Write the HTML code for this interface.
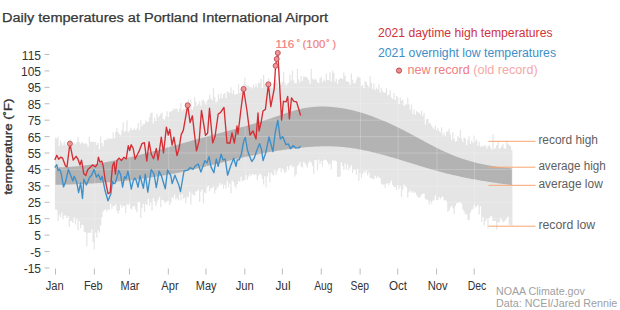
<!DOCTYPE html>
<html><head><meta charset="utf-8"><style>
html,body{margin:0;padding:0;background:#fff;overflow:hidden}
svg{display:block;font-family:"Liberation Sans", sans-serif}
</style></head><body>
<svg width="620" height="310" viewBox="0 0 620 310">
<rect width="620" height="310" fill="#fff"/>
<path d="M54.87,137.7 L56.13,137.7 L56.13,138.5 L57.38,138.5 L57.38,136.4 L58.63,136.4 L58.63,146.1 L59.89,146.1 L59.89,140.4 L61.14,140.4 L61.14,143.0 L62.39,143.0 L62.39,145.4 L63.65,145.4 L63.65,141.7 L64.90,141.7 L64.90,144.5 L66.16,144.5 L66.16,145.2 L67.41,145.2 L67.41,146.5 L68.66,146.5 L68.66,140.3 L69.92,140.3 L69.92,139.5 L71.17,139.5 L71.17,146.1 L72.42,146.1 L72.42,143.7 L73.68,143.7 L73.68,142.8 L74.93,142.8 L74.93,144.2 L76.18,144.2 L76.18,142.1 L77.44,142.1 L77.44,137.1 L78.69,137.1 L78.69,142.3 L79.95,142.3 L79.95,143.7 L81.20,143.7 L81.20,141.7 L82.45,141.7 L82.45,143.2 L83.71,143.2 L83.71,143.7 L84.96,143.7 L84.96,143.0 L86.21,143.0 L86.21,144.3 L87.47,144.3 L87.47,146.7 L88.72,146.7 L88.72,137.0 L89.97,137.0 L89.97,142.1 L91.23,142.1 L91.23,141.8 L92.48,141.8 L92.48,141.6 L93.73,141.6 L93.73,142.3 L94.99,142.3 L94.99,141.7 L96.24,141.7 L96.24,145.0 L97.50,145.0 L97.50,142.7 L98.75,142.7 L98.75,149.2 L100.00,149.2 L100.00,136.2 L101.26,136.2 L101.26,142.9 L102.51,142.9 L102.51,146.3 L103.76,146.3 L103.76,140.3 L105.02,140.3 L105.02,139.6 L106.27,139.6 L106.27,139.9 L107.52,139.9 L107.52,138.1 L108.78,138.1 L108.78,139.0 L110.03,139.0 L110.03,138.2 L111.29,138.2 L111.29,139.3 L112.54,139.3 L112.54,132.6 L113.79,132.6 L113.79,138.3 L115.05,138.3 L115.05,132.1 L116.30,132.1 L116.30,128.0 L117.55,128.0 L117.55,131.9 L118.81,131.9 L118.81,133.9 L120.06,133.9 L120.06,135.3 L121.31,135.3 L121.31,130.3 L122.57,130.3 L122.57,122.5 L123.82,122.5 L123.82,131.9 L125.07,131.9 L125.07,130.9 L126.33,130.9 L126.33,120.2 L127.58,120.2 L127.58,132.0 L128.84,132.0 L128.84,130.3 L130.09,130.3 L130.09,127.5 L131.34,127.5 L131.34,129.8 L132.60,129.8 L132.60,129.9 L133.85,129.9 L133.85,128.3 L135.10,128.3 L135.10,130.0 L136.36,130.0 L136.36,128.6 L137.61,128.6 L137.61,123.0 L138.86,123.0 L138.86,129.9 L140.12,129.9 L140.12,120.3 L141.37,120.3 L141.37,126.2 L142.63,126.2 L142.63,124.0 L143.88,124.0 L143.88,123.9 L145.13,123.9 L145.13,120.5 L146.39,120.5 L146.39,122.0 L147.64,122.0 L147.64,121.8 L148.89,121.8 L148.89,117.1 L150.15,117.1 L150.15,113.3 L151.40,113.3 L151.40,112.6 L152.65,112.6 L152.65,123.4 L153.91,123.4 L153.91,118.0 L155.16,118.0 L155.16,121.1 L156.41,121.1 L156.41,113.8 L157.67,113.8 L157.67,117.5 L158.92,117.5 L158.92,115.8 L160.18,115.8 L160.18,113.7 L161.43,113.7 L161.43,112.5 L162.68,112.5 L162.68,119.0 L163.94,119.0 L163.94,119.7 L165.19,119.7 L165.19,116.4 L166.44,116.4 L166.44,111.3 L167.70,111.3 L167.70,117.0 L168.95,117.0 L168.95,111.8 L170.20,111.8 L170.20,111.5 L171.46,111.5 L171.46,110.9 L172.71,110.9 L172.71,108.5 L173.97,108.5 L173.97,109.6 L175.22,109.6 L175.22,108.3 L176.47,108.3 L176.47,109.0 L177.73,109.0 L177.73,111.9 L178.98,111.9 L178.98,108.8 L180.23,108.8 L180.23,102.9 L181.49,102.9 L181.49,111.2 L182.74,111.2 L182.74,109.0 L183.99,109.0 L183.99,109.2 L185.25,109.2 L185.25,102.1 L186.50,102.1 L186.50,108.1 L187.75,108.1 L187.75,99.4 L189.01,99.4 L189.01,107.1 L190.26,107.1 L190.26,99.8 L191.52,99.8 L191.52,109.8 L192.77,109.8 L192.77,107.1 L194.02,107.1 L194.02,97.3 L195.28,97.3 L195.28,102.0 L196.53,102.0 L196.53,105.9 L197.78,105.9 L197.78,103.7 L199.04,103.7 L199.04,101.2 L200.29,101.2 L200.29,105.7 L201.54,105.7 L201.54,100.4 L202.80,100.4 L202.80,99.5 L204.05,99.5 L204.05,102.0 L205.31,102.0 L205.31,104.8 L206.56,104.8 L206.56,100.8 L207.81,100.8 L207.81,99.3 L209.07,99.3 L209.07,94.6 L210.32,94.6 L210.32,98.4 L211.57,98.4 L211.57,100.4 L212.83,100.4 L212.83,87.7 L214.08,87.7 L214.08,96.9 L215.33,96.9 L215.33,102.2 L216.59,102.2 L216.59,101.4 L217.84,101.4 L217.84,94.1 L219.09,94.1 L219.09,98.4 L220.35,98.4 L220.35,93.8 L221.60,93.8 L221.60,98.3 L222.86,98.3 L222.86,94.3 L224.11,94.3 L224.11,93.1 L225.36,93.1 L225.36,98.3 L226.62,98.3 L226.62,91.3 L227.87,91.3 L227.87,92.1 L229.12,92.1 L229.12,92.9 L230.38,92.9 L230.38,87.2 L231.63,87.2 L231.63,93.7 L232.88,93.7 L232.88,90.1 L234.14,90.1 L234.14,94.4 L235.39,94.4 L235.39,94.3 L236.65,94.3 L236.65,94.0 L237.90,94.0 L237.90,84.2 L239.15,84.2 L239.15,93.1 L240.41,93.1 L240.41,88.7 L241.66,88.7 L241.66,86.2 L242.91,86.2 L242.91,84.7 L244.17,84.7 L244.17,77.7 L245.42,77.7 L245.42,84.2 L246.67,84.2 L246.67,85.6 L247.93,85.6 L247.93,85.4 L249.18,85.4 L249.18,87.1 L250.43,87.1 L250.43,86.7 L251.69,86.7 L251.69,88.6 L252.94,88.6 L252.94,84.5 L254.20,84.5 L254.20,87.0 L255.45,87.0 L255.45,83.5 L256.70,83.5 L256.70,87.1 L257.96,87.1 L257.96,82.4 L259.21,82.4 L259.21,83.1 L260.46,83.1 L260.46,78.6 L261.72,78.6 L261.72,87.9 L262.97,87.9 L262.97,74.8 L264.22,74.8 L264.22,83.8 L265.48,83.8 L265.48,82.9 L266.73,82.9 L266.73,82.3 L267.99,82.3 L267.99,78.1 L269.24,78.1 L269.24,82.0 L270.49,82.0 L270.49,86.8 L271.75,86.8 L271.75,87.5 L273.00,87.5 L273.00,82.7 L274.25,82.7 L274.25,81.9 L275.51,81.9 L275.51,79.7 L276.76,79.7 L276.76,82.6 L278.01,82.6 L278.01,86.9 L279.27,86.9 L279.27,83.1 L280.52,83.1 L280.52,84.8 L281.77,84.8 L281.77,81.4 L283.03,81.4 L283.03,71.7 L284.28,71.7 L284.28,82.8 L285.54,82.8 L285.54,86.1 L286.79,86.1 L286.79,83.7 L288.04,83.7 L288.04,82.7 L289.30,82.7 L289.30,74.8 L290.55,74.8 L290.55,80.4 L291.80,80.4 L291.80,70.8 L293.06,70.8 L293.06,80.2 L294.31,80.2 L294.31,83.3 L295.56,83.3 L295.56,83.2 L296.82,83.2 L296.82,68.7 L298.07,68.7 L298.07,79.4 L299.33,79.4 L299.33,82.6 L300.58,82.6 L300.58,76.0 L301.83,76.0 L301.83,81.0 L303.09,81.0 L303.09,76.6 L304.34,76.6 L304.34,76.8 L305.59,76.8 L305.59,77.0 L306.85,77.0 L306.85,78.1 L308.10,78.1 L308.10,80.3 L309.35,80.3 L309.35,83.7 L310.61,83.7 L310.61,68.8 L311.86,68.8 L311.86,78.8 L313.11,78.8 L313.11,80.0 L314.37,80.0 L314.37,78.5 L315.62,78.5 L315.62,79.7 L316.88,79.7 L316.88,81.9 L318.13,81.9 L318.13,83.3 L319.38,83.3 L319.38,78.6 L320.64,78.6 L320.64,76.8 L321.89,76.8 L321.89,82.3 L323.14,82.3 L323.14,79.6 L324.40,79.6 L324.40,81.3 L325.65,81.3 L325.65,73.5 L326.90,73.5 L326.90,79.9 L328.16,79.9 L328.16,80.2 L329.41,80.2 L329.41,72.3 L330.67,72.3 L330.67,81.6 L331.92,81.6 L331.92,70.8 L333.17,70.8 L333.17,72.8 L334.43,72.8 L334.43,81.8 L335.68,81.8 L335.68,78.7 L336.93,78.7 L336.93,83.7 L338.19,83.7 L338.19,79.8 L339.44,79.8 L339.44,78.3 L340.69,78.3 L340.69,78.3 L341.95,78.3 L341.95,79.0 L343.20,79.0 L343.20,72.6 L344.45,72.6 L344.45,75.9 L345.71,75.9 L345.71,81.6 L346.96,81.6 L346.96,81.3 L348.22,81.3 L348.22,81.9 L349.47,81.9 L349.47,85.1 L350.72,85.1 L350.72,73.5 L351.98,73.5 L351.98,79.7 L353.23,79.7 L353.23,83.3 L354.48,83.3 L354.48,83.2 L355.74,83.2 L355.74,79.6 L356.99,79.6 L356.99,76.6 L358.24,76.6 L358.24,77.2 L359.50,77.2 L359.50,77.9 L360.75,77.9 L360.75,86.1 L362.01,86.1 L362.01,84.7 L363.26,84.7 L363.26,88.0 L364.51,88.0 L364.51,81.2 L365.77,81.2 L365.77,81.7 L367.02,81.7 L367.02,84.9 L368.27,84.9 L368.27,87.0 L369.53,87.0 L369.53,76.3 L370.78,76.3 L370.78,82.7 L372.03,82.7 L372.03,88.9 L373.29,88.9 L373.29,83.6 L374.54,83.6 L374.54,90.3 L375.79,90.3 L375.79,87.4 L377.05,87.4 L377.05,89.3 L378.30,89.3 L378.30,84.6 L379.56,84.6 L379.56,92.4 L380.81,92.4 L380.81,87.8 L382.06,87.8 L382.06,91.2 L383.32,91.2 L383.32,92.8 L384.57,92.8 L384.57,92.4 L385.82,92.4 L385.82,87.8 L387.08,87.8 L387.08,95.4 L388.33,95.4 L388.33,94.4 L389.58,94.4 L389.58,90.3 L390.84,90.3 L390.84,97.4 L392.09,97.4 L392.09,99.1 L393.35,99.1 L393.35,93.0 L394.60,93.0 L394.60,100.3 L395.85,100.3 L395.85,95.7 L397.11,95.7 L397.11,97.6 L398.36,97.6 L398.36,104.0 L399.61,104.0 L399.61,97.4 L400.87,97.4 L400.87,100.8 L402.12,100.8 L402.12,99.6 L403.37,99.6 L403.37,105.9 L404.63,105.9 L404.63,104.6 L405.88,104.6 L405.88,104.4 L407.13,104.4 L407.13,97.7 L408.39,97.7 L408.39,104.3 L409.64,104.3 L409.64,109.7 L410.90,109.7 L410.90,104.5 L412.15,104.5 L412.15,113.9 L413.40,113.9 L413.40,109.6 L414.66,109.6 L414.66,114.8 L415.91,114.8 L415.91,111.0 L417.16,111.0 L417.16,112.1 L418.42,112.1 L418.42,112.8 L419.67,112.8 L419.67,114.4 L420.92,114.4 L420.92,110.6 L422.18,110.6 L422.18,116.2 L423.43,116.2 L423.43,112.9 L424.69,112.9 L424.69,124.6 L425.94,124.6 L425.94,119.2 L427.19,119.2 L427.19,118.7 L428.45,118.7 L428.45,123.2 L429.70,123.2 L429.70,123.3 L430.95,123.3 L430.95,125.4 L432.21,125.4 L432.21,127.4 L433.46,127.4 L433.46,129.2 L434.71,129.2 L434.71,125.6 L435.97,125.6 L435.97,130.1 L437.22,130.1 L437.22,128.0 L438.47,128.0 L438.47,130.8 L439.73,130.8 L439.73,132.4 L440.98,132.4 L440.98,127.2 L442.24,127.2 L442.24,135.2 L443.49,135.2 L443.49,132.7 L444.74,132.7 L444.74,135.7 L446.00,135.7 L446.00,131.5 L447.25,131.5 L447.25,131.4 L448.50,131.4 L448.50,128.8 L449.76,128.8 L449.76,134.5 L451.01,134.5 L451.01,139.9 L452.26,139.9 L452.26,132.3 L453.52,132.3 L453.52,138.6 L454.77,138.6 L454.77,141.8 L456.03,141.8 L456.03,141.1 L457.28,141.1 L457.28,136.1 L458.53,136.1 L458.53,137.7 L459.79,137.7 L459.79,130.1 L461.04,130.1 L461.04,138.8 L462.29,138.8 L462.29,142.0 L463.55,142.0 L463.55,137.5 L464.80,137.5 L464.80,138.5 L466.05,138.5 L466.05,145.3 L467.31,145.3 L467.31,139.8 L468.56,139.8 L468.56,136.3 L469.81,136.3 L469.81,144.0 L471.07,144.0 L471.07,140.5 L472.32,140.5 L472.32,142.8 L473.58,142.8 L473.58,135.6 L474.83,135.6 L474.83,141.2 L476.08,141.2 L476.08,139.2 L477.34,139.2 L477.34,146.0 L478.59,146.0 L478.59,141.8 L479.84,141.8 L479.84,146.7 L481.10,146.7 L481.10,145.5 L482.35,145.5 L482.35,146.7 L483.60,146.7 L483.60,145.6 L484.86,145.6 L484.86,145.4 L486.11,145.4 L486.11,148.8 L487.37,148.8 L487.37,146.3 L488.62,146.3 L488.62,145.1 L489.87,145.1 L489.87,147.6 L491.13,147.6 L491.13,149.8 L492.38,149.8 L492.38,134.3 L493.63,134.3 L493.63,149.2 L494.89,149.2 L494.89,148.1 L496.14,148.1 L496.14,144.9 L497.39,144.9 L497.39,140.9 L498.65,140.9 L498.65,148.7 L499.90,148.7 L499.90,148.0 L501.15,148.0 L501.15,146.2 L502.41,146.2 L502.41,144.2 L503.66,144.2 L503.66,148.5 L504.92,148.5 L504.92,148.7 L506.17,148.7 L506.17,140.5 L507.42,140.5 L507.42,144.2 L508.68,144.2 L508.68,145.0 L509.93,145.0 L509.93,146.3 L511.18,146.3 L511.18,150.2 L512.44,150.2 L512.44,225.7 L511.18,225.7 L511.18,224.7 L509.93,224.7 L509.93,225.0 L508.68,225.0 L508.68,216.4 L507.42,216.4 L507.42,218.5 L506.17,218.5 L506.17,220.0 L504.92,220.0 L504.92,221.5 L503.66,221.5 L503.66,222.4 L502.41,222.4 L502.41,220.0 L501.15,220.0 L501.15,218.3 L499.90,218.3 L499.90,222.6 L498.65,222.6 L498.65,222.2 L497.39,222.2 L497.39,229.7 L496.14,229.7 L496.14,220.8 L494.89,220.8 L494.89,220.9 L493.63,220.9 L493.63,220.9 L492.38,220.9 L492.38,216.4 L491.13,216.4 L491.13,216.2 L489.87,216.2 L489.87,218.0 L488.62,218.0 L488.62,228.5 L487.37,228.5 L487.37,218.8 L486.11,218.8 L486.11,220.9 L484.86,220.9 L484.86,225.4 L483.60,225.4 L483.60,217.3 L482.35,217.3 L482.35,222.0 L481.10,222.0 L481.10,206.3 L479.84,206.3 L479.84,214.4 L478.59,214.4 L478.59,205.1 L477.34,205.1 L477.34,206.4 L476.08,206.4 L476.08,207.2 L474.83,207.2 L474.83,204.4 L473.58,204.4 L473.58,209.0 L472.32,209.0 L472.32,209.7 L471.07,209.7 L471.07,212.8 L469.81,212.8 L469.81,220.2 L468.56,220.2 L468.56,220.0 L467.31,220.0 L467.31,213.9 L466.05,213.9 L466.05,214.8 L464.80,214.8 L464.80,211.6 L463.55,211.6 L463.55,209.4 L462.29,209.4 L462.29,203.7 L461.04,203.7 L461.04,202.3 L459.79,202.3 L459.79,202.2 L458.53,202.2 L458.53,203.2 L457.28,203.2 L457.28,203.0 L456.03,203.0 L456.03,206.1 L454.77,206.1 L454.77,214.0 L453.52,214.0 L453.52,208.3 L452.26,208.3 L452.26,205.4 L451.01,205.4 L451.01,207.6 L449.76,207.6 L449.76,210.4 L448.50,210.4 L448.50,211.7 L447.25,211.7 L447.25,201.4 L446.00,201.4 L446.00,200.0 L444.74,200.0 L444.74,200.4 L443.49,200.4 L443.49,196.7 L442.24,196.7 L442.24,196.9 L440.98,196.9 L440.98,199.3 L439.73,199.3 L439.73,196.7 L438.47,196.7 L438.47,200.0 L437.22,200.0 L437.22,199.9 L435.97,199.9 L435.97,195.6 L434.71,195.6 L434.71,199.8 L433.46,199.8 L433.46,200.7 L432.21,200.7 L432.21,203.7 L430.95,203.7 L430.95,201.3 L429.70,201.3 L429.70,204.7 L428.45,204.7 L428.45,199.8 L427.19,199.8 L427.19,199.8 L425.94,199.8 L425.94,198.7 L424.69,198.7 L424.69,193.4 L423.43,193.4 L423.43,193.7 L422.18,193.7 L422.18,194.4 L420.92,194.4 L420.92,197.1 L419.67,197.1 L419.67,198.1 L418.42,198.1 L418.42,196.7 L417.16,196.7 L417.16,195.3 L415.91,195.3 L415.91,192.3 L414.66,192.3 L414.66,193.1 L413.40,193.1 L413.40,191.3 L412.15,191.3 L412.15,192.7 L410.90,192.7 L410.90,190.3 L409.64,190.3 L409.64,192.2 L408.39,192.2 L408.39,197.5 L407.13,197.5 L407.13,187.6 L405.88,187.6 L405.88,186.4 L404.63,186.4 L404.63,184.4 L403.37,184.4 L403.37,189.6 L402.12,189.6 L402.12,196.7 L400.87,196.7 L400.87,186.3 L399.61,186.3 L399.61,189.2 L398.36,189.2 L398.36,184.9 L397.11,184.9 L397.11,189.7 L395.85,189.7 L395.85,187.1 L394.60,187.1 L394.60,187.3 L393.35,187.3 L393.35,185.1 L392.09,185.1 L392.09,180.6 L390.84,180.6 L390.84,182.6 L389.58,182.6 L389.58,184.9 L388.33,184.9 L388.33,183.3 L387.08,183.3 L387.08,183.4 L385.82,183.4 L385.82,187.8 L384.57,187.8 L384.57,184.3 L383.32,184.3 L383.32,184.8 L382.06,184.8 L382.06,183.7 L380.81,183.7 L380.81,178.5 L379.56,178.5 L379.56,177.2 L378.30,177.2 L378.30,176.5 L377.05,176.5 L377.05,178.4 L375.79,178.4 L375.79,175.8 L374.54,175.8 L374.54,179.2 L373.29,179.2 L373.29,179.1 L372.03,179.1 L372.03,178.1 L370.78,178.1 L370.78,177.9 L369.53,177.9 L369.53,172.6 L368.27,172.6 L368.27,175.6 L367.02,175.6 L367.02,170.3 L365.77,170.3 L365.77,173.0 L364.51,173.0 L364.51,171.2 L363.26,171.2 L363.26,173.9 L362.01,173.9 L362.01,177.9 L360.75,177.9 L360.75,172.9 L359.50,172.9 L359.50,180.7 L358.24,180.7 L358.24,168.7 L356.99,168.7 L356.99,174.7 L355.74,174.7 L355.74,170.1 L354.48,170.1 L354.48,169.7 L353.23,169.7 L353.23,173.1 L351.98,173.1 L351.98,165.2 L350.72,165.2 L350.72,167.3 L349.47,167.3 L349.47,170.3 L348.22,170.3 L348.22,164.4 L346.96,164.4 L346.96,170.1 L345.71,170.1 L345.71,163.6 L344.45,163.6 L344.45,169.8 L343.20,169.8 L343.20,165.9 L341.95,165.9 L341.95,162.6 L340.69,162.6 L340.69,176.5 L339.44,176.5 L339.44,176.7 L338.19,176.7 L338.19,176.9 L336.93,176.9 L336.93,161.4 L335.68,161.4 L335.68,160.6 L334.43,160.6 L334.43,160.6 L333.17,160.6 L333.17,160.6 L331.92,160.6 L331.92,169.7 L330.67,169.7 L330.67,163.6 L329.41,163.6 L329.41,164.8 L328.16,164.8 L328.16,161.9 L326.90,161.9 L326.90,160.3 L325.65,160.3 L325.65,159.6 L324.40,159.6 L324.40,160.2 L323.14,160.2 L323.14,166.4 L321.89,166.4 L321.89,160.9 L320.64,160.9 L320.64,164.0 L319.38,164.0 L319.38,159.4 L318.13,159.4 L318.13,170.2 L316.88,170.2 L316.88,159.9 L315.62,159.9 L315.62,160.2 L314.37,160.2 L314.37,173.7 L313.11,173.7 L313.11,166.0 L311.86,166.0 L311.86,162.7 L310.61,162.7 L310.61,161.0 L309.35,161.0 L309.35,163.0 L308.10,163.0 L308.10,167.4 L306.85,167.4 L306.85,165.5 L305.59,165.5 L305.59,163.3 L304.34,163.3 L304.34,162.0 L303.09,162.0 L303.09,167.5 L301.83,167.5 L301.83,166.7 L300.58,166.7 L300.58,161.9 L299.33,161.9 L299.33,164.8 L298.07,164.8 L298.07,166.2 L296.82,166.2 L296.82,174.2 L295.56,174.2 L295.56,176.4 L294.31,176.4 L294.31,166.5 L293.06,166.5 L293.06,167.4 L291.80,167.4 L291.80,164.8 L290.55,164.8 L290.55,165.9 L289.30,165.9 L289.30,169.9 L288.04,169.9 L288.04,166.2 L286.79,166.2 L286.79,171.8 L285.54,171.8 L285.54,172.9 L284.28,172.9 L284.28,170.6 L283.03,170.6 L283.03,168.6 L281.77,168.6 L281.77,172.2 L280.52,172.2 L280.52,167.9 L279.27,167.9 L279.27,168.8 L278.01,168.8 L278.01,170.9 L276.76,170.9 L276.76,174.8 L275.51,174.8 L275.51,170.3 L274.25,170.3 L274.25,175.8 L273.00,175.8 L273.00,174.5 L271.75,174.5 L271.75,172.6 L270.49,172.6 L270.49,182.2 L269.24,182.2 L269.24,172.5 L267.99,172.5 L267.99,176.4 L266.73,176.4 L266.73,187.6 L265.48,187.6 L265.48,176.2 L264.22,176.2 L264.22,184.5 L262.97,184.5 L262.97,179.1 L261.72,179.1 L261.72,174.6 L260.46,174.6 L260.46,173.5 L259.21,173.5 L259.21,175.4 L257.96,175.4 L257.96,180.0 L256.70,180.0 L256.70,174.5 L255.45,174.5 L255.45,174.6 L254.20,174.6 L254.20,174.8 L252.94,174.8 L252.94,173.8 L251.69,173.8 L251.69,175.9 L250.43,175.9 L250.43,174.3 L249.18,174.3 L249.18,176.4 L247.93,176.4 L247.93,179.8 L246.67,179.8 L246.67,175.1 L245.42,175.1 L245.42,180.0 L244.17,180.0 L244.17,180.7 L242.91,180.7 L242.91,181.1 L241.66,181.1 L241.66,176.5 L240.41,176.5 L240.41,181.7 L239.15,181.7 L239.15,181.1 L237.90,181.1 L237.90,184.1 L236.65,184.1 L236.65,188.0 L235.39,188.0 L235.39,186.1 L234.14,186.1 L234.14,181.9 L232.88,181.9 L232.88,180.4 L231.63,180.4 L231.63,193.3 L230.38,193.3 L230.38,183.6 L229.12,183.6 L229.12,186.9 L227.87,186.9 L227.87,180.9 L226.62,180.9 L226.62,188.5 L225.36,188.5 L225.36,185.0 L224.11,185.0 L224.11,188.7 L222.86,188.7 L222.86,183.8 L221.60,183.8 L221.60,184.9 L220.35,184.9 L220.35,182.9 L219.09,182.9 L219.09,186.5 L217.84,186.5 L217.84,187.6 L216.59,187.6 L216.59,190.1 L215.33,190.1 L215.33,193.7 L214.08,193.7 L214.08,186.6 L212.83,186.6 L212.83,188.1 L211.57,188.1 L211.57,188.2 L210.32,188.2 L210.32,191.1 L209.07,191.1 L209.07,185.8 L207.81,185.8 L207.81,187.3 L206.56,187.3 L206.56,193.2 L205.31,193.2 L205.31,192.5 L204.05,192.5 L204.05,203.6 L202.80,203.6 L202.80,189.3 L201.54,189.3 L201.54,191.5 L200.29,191.5 L200.29,202.0 L199.04,202.0 L199.04,189.6 L197.78,189.6 L197.78,191.3 L196.53,191.3 L196.53,191.4 L195.28,191.4 L195.28,195.6 L194.02,195.6 L194.02,194.9 L192.77,194.9 L192.77,193.3 L191.52,193.3 L191.52,204.6 L190.26,204.6 L190.26,191.5 L189.01,191.5 L189.01,197.2 L187.75,197.2 L187.75,196.6 L186.50,196.6 L186.50,203.6 L185.25,203.6 L185.25,197.6 L183.99,197.6 L183.99,198.9 L182.74,198.9 L182.74,193.9 L181.49,193.9 L181.49,200.2 L180.23,200.2 L180.23,194.5 L178.98,194.5 L178.98,200.6 L177.73,200.6 L177.73,198.0 L176.47,198.0 L176.47,199.5 L175.22,199.5 L175.22,194.4 L173.97,194.4 L173.97,198.4 L172.71,198.4 L172.71,197.3 L171.46,197.3 L171.46,202.8 L170.20,202.8 L170.20,205.0 L168.95,205.0 L168.95,200.8 L167.70,200.8 L167.70,201.3 L166.44,201.3 L166.44,202.6 L165.19,202.6 L165.19,202.7 L163.94,202.7 L163.94,200.3 L162.68,200.3 L162.68,199.9 L161.43,199.9 L161.43,207.3 L160.18,207.3 L160.18,196.9 L158.92,196.9 L158.92,199.2 L157.67,199.2 L157.67,202.6 L156.41,202.6 L156.41,206.0 L155.16,206.0 L155.16,200.9 L153.91,200.9 L153.91,198.2 L152.65,198.2 L152.65,210.6 L151.40,210.6 L151.40,202.4 L150.15,202.4 L150.15,205.4 L148.89,205.4 L148.89,198.7 L147.64,198.7 L147.64,205.0 L146.39,205.0 L146.39,204.1 L145.13,204.1 L145.13,212.1 L143.88,212.1 L143.88,204.0 L142.63,204.0 L142.63,208.2 L141.37,208.2 L141.37,218.1 L140.12,218.1 L140.12,202.3 L138.86,202.3 L138.86,202.0 L137.61,202.0 L137.61,212.3 L136.36,212.3 L136.36,209.4 L135.10,209.4 L135.10,205.9 L133.85,205.9 L133.85,206.3 L132.60,206.3 L132.60,209.6 L131.34,209.6 L131.34,208.6 L130.09,208.6 L130.09,203.4 L128.84,203.4 L128.84,205.3 L127.58,205.3 L127.58,204.2 L126.33,204.2 L126.33,213.1 L125.07,213.1 L125.07,206.3 L123.82,206.3 L123.82,205.8 L122.57,205.8 L122.57,207.7 L121.31,207.7 L121.31,204.7 L120.06,204.7 L120.06,210.5 L118.81,210.5 L118.81,213.8 L117.55,213.8 L117.55,210.8 L116.30,210.8 L116.30,204.2 L115.05,204.2 L115.05,206.2 L113.79,206.2 L113.79,205.7 L112.54,205.7 L112.54,209.0 L111.29,209.0 L111.29,203.7 L110.03,203.7 L110.03,209.8 L108.78,209.8 L108.78,209.4 L107.52,209.4 L107.52,211.4 L106.27,211.4 L106.27,209.3 L105.02,209.3 L105.02,210.3 L103.76,210.3 L103.76,211.5 L102.51,211.5 L102.51,217.6 L101.26,217.6 L101.26,225.6 L100.00,225.6 L100.00,232.4 L98.75,232.4 L98.75,230.2 L97.50,230.2 L97.50,237.6 L96.24,237.6 L96.24,232.5 L94.99,232.5 L94.99,249.5 L93.73,249.5 L93.73,242.1 L92.48,242.1 L92.48,229.2 L91.23,229.2 L91.23,232.9 L89.97,232.9 L89.97,232.5 L88.72,232.5 L88.72,233.0 L87.47,233.0 L87.47,246.3 L86.21,246.3 L86.21,232.3 L84.96,232.3 L84.96,231.9 L83.71,231.9 L83.71,224.9 L82.45,224.9 L82.45,225.1 L81.20,225.1 L81.20,227.9 L79.95,227.9 L79.95,221.2 L78.69,221.2 L78.69,230.5 L77.44,230.5 L77.44,218.9 L76.18,218.9 L76.18,224.4 L74.93,224.4 L74.93,217.5 L73.68,217.5 L73.68,223.0 L72.42,223.0 L72.42,221.1 L71.17,221.1 L71.17,221.1 L69.92,221.1 L69.92,226.9 L68.66,226.9 L68.66,216.1 L67.41,216.1 L67.41,217.9 L66.16,217.9 L66.16,215.2 L64.90,215.2 L64.90,215.7 L63.65,215.7 L63.65,219.6 L62.39,219.6 L62.39,212.8 L61.14,212.8 L61.14,217.0 L59.89,217.0 L59.89,215.0 L58.63,215.0 L58.63,221.1 L57.38,221.1 L57.38,209.7 L56.13,209.7 L56.13,209.6 L54.87,209.6Z" fill="#e5e5e5"/>
<path d="M55.50,167.44 L56.75,167.42 L58.01,167.39 L59.26,167.36 L60.51,167.32 L61.77,167.27 L63.02,167.22 L64.28,167.16 L65.53,167.10 L66.78,167.03 L68.04,166.95 L69.29,166.87 L70.54,166.78 L71.80,166.69 L73.05,166.59 L74.30,166.49 L75.56,166.38 L76.81,166.26 L78.06,166.14 L79.32,166.01 L80.57,165.88 L81.83,165.74 L83.08,165.60 L84.33,165.45 L85.59,165.30 L86.84,165.14 L88.09,164.98 L89.35,164.82 L90.60,164.64 L91.85,164.47 L93.11,164.29 L94.36,164.10 L95.62,163.91 L96.87,163.71 L98.12,163.51 L99.38,163.31 L100.63,163.10 L101.88,162.89 L103.14,162.67 L104.39,162.45 L105.64,162.23 L106.90,162.00 L108.15,161.77 L109.40,161.53 L110.66,161.29 L111.91,161.05 L113.17,160.80 L114.42,160.55 L115.67,160.30 L116.93,160.04 L118.18,159.78 L119.43,159.51 L120.69,159.24 L121.94,158.97 L123.19,158.70 L124.45,158.42 L125.70,158.14 L126.96,157.86 L128.21,157.57 L129.46,157.28 L130.72,156.99 L131.97,156.69 L133.22,156.40 L134.48,156.10 L135.73,155.80 L136.98,155.49 L138.24,155.18 L139.49,154.87 L140.74,154.56 L142.00,154.25 L143.25,153.93 L144.51,153.61 L145.76,153.29 L147.01,152.97 L148.27,152.65 L149.52,152.32 L150.77,151.99 L152.03,151.66 L153.28,151.33 L154.53,151.00 L155.79,150.67 L157.04,150.33 L158.30,149.99 L159.55,149.65 L160.80,149.32 L162.06,148.97 L163.31,148.63 L164.56,148.29 L165.82,147.95 L167.07,147.60 L168.32,147.25 L169.58,146.91 L170.83,146.56 L172.08,146.21 L173.34,145.86 L174.59,145.51 L175.85,145.16 L177.10,144.81 L178.35,144.46 L179.61,144.11 L180.86,143.76 L182.11,143.41 L183.37,143.06 L184.62,142.71 L185.87,142.36 L187.13,142.00 L188.38,141.65 L189.64,141.30 L190.89,140.95 L192.14,140.60 L193.40,140.25 L194.65,139.90 L195.90,139.55 L197.16,139.20 L198.41,138.85 L199.66,138.51 L200.92,138.16 L202.17,137.81 L203.42,137.47 L204.68,137.13 L205.93,136.78 L207.19,136.44 L208.44,136.10 L209.69,135.76 L210.95,135.42 L212.20,135.08 L213.45,134.75 L214.71,134.41 L215.96,134.08 L217.21,133.74 L218.47,133.41 L219.72,133.08 L220.98,132.74 L222.23,132.41 L223.48,132.08 L224.74,131.74 L225.99,131.41 L227.24,131.07 L228.50,130.74 L229.75,130.40 L231.00,130.07 L232.26,129.73 L233.51,129.39 L234.76,129.05 L236.02,128.71 L237.27,128.37 L238.53,128.03 L239.78,127.69 L241.03,127.34 L242.29,126.99 L243.54,126.64 L244.79,126.29 L246.05,125.94 L247.30,125.58 L248.55,125.22 L249.81,124.86 L251.06,124.50 L252.32,124.13 L253.57,123.76 L254.82,123.39 L256.08,123.01 L257.33,122.63 L258.58,122.25 L259.84,121.86 L261.09,121.48 L262.34,121.08 L263.60,120.69 L264.85,120.28 L266.10,119.88 L267.36,119.47 L268.61,119.06 L269.87,118.64 L271.12,118.22 L272.37,117.79 L273.63,117.36 L274.88,116.93 L276.13,116.50 L277.39,116.07 L278.64,115.64 L279.89,115.20 L281.15,114.78 L282.40,114.35 L283.66,113.93 L284.91,113.51 L286.16,113.09 L287.42,112.69 L288.67,112.29 L289.92,111.89 L291.18,111.51 L292.43,111.14 L293.68,110.77 L294.94,110.42 L296.19,110.08 L297.44,109.75 L298.70,109.43 L299.95,109.13 L301.21,108.85 L302.46,108.58 L303.71,108.32 L304.97,108.09 L306.22,107.87 L307.47,107.67 L308.73,107.49 L309.98,107.32 L311.23,107.17 L312.49,107.04 L313.74,106.92 L315.00,106.82 L316.25,106.74 L317.50,106.67 L318.76,106.62 L320.01,106.58 L321.26,106.56 L322.52,106.55 L323.77,106.56 L325.02,106.58 L326.28,106.62 L327.53,106.67 L328.78,106.73 L330.04,106.81 L331.29,106.90 L332.55,107.01 L333.80,107.13 L335.05,107.26 L336.31,107.40 L337.56,107.56 L338.81,107.73 L340.07,107.91 L341.32,108.10 L342.57,108.31 L343.83,108.53 L345.08,108.75 L346.34,108.99 L347.59,109.25 L348.84,109.51 L350.10,109.78 L351.35,110.07 L352.60,110.36 L353.86,110.67 L355.11,110.99 L356.36,111.31 L357.62,111.65 L358.87,112.00 L360.12,112.36 L361.38,112.73 L362.63,113.11 L363.89,113.49 L365.14,113.89 L366.39,114.30 L367.65,114.72 L368.90,115.15 L370.15,115.58 L371.41,116.03 L372.66,116.48 L373.91,116.95 L375.17,117.42 L376.42,117.90 L377.68,118.39 L378.93,118.89 L380.18,119.39 L381.44,119.91 L382.69,120.43 L383.94,120.96 L385.20,121.50 L386.45,122.05 L387.70,122.60 L388.96,123.16 L390.21,123.73 L391.46,124.31 L392.72,124.89 L393.97,125.49 L395.23,126.08 L396.48,126.69 L397.73,127.30 L398.99,127.92 L400.24,128.55 L401.49,129.18 L402.75,129.82 L404.00,130.46 L405.25,131.11 L406.51,131.76 L407.76,132.42 L409.02,133.09 L410.27,133.76 L411.52,134.43 L412.78,135.10 L414.03,135.78 L415.28,136.45 L416.54,137.13 L417.79,137.81 L419.04,138.49 L420.30,139.17 L421.55,139.85 L422.80,140.53 L424.06,141.21 L425.31,141.88 L426.57,142.55 L427.82,143.22 L429.07,143.89 L430.33,144.55 L431.58,145.21 L432.83,145.86 L434.09,146.50 L435.34,147.14 L436.59,147.78 L437.85,148.40 L439.10,149.02 L440.36,149.63 L441.61,150.24 L442.86,150.83 L444.12,151.42 L445.37,151.99 L446.62,152.55 L447.88,153.11 L449.13,153.65 L450.38,154.18 L451.64,154.70 L452.89,155.21 L454.14,155.71 L455.40,156.19 L456.65,156.67 L457.91,157.14 L459.16,157.59 L460.41,158.03 L461.67,158.47 L462.92,158.89 L464.17,159.31 L465.43,159.71 L466.68,160.10 L467.93,160.49 L469.19,160.86 L470.44,161.22 L471.70,161.58 L472.95,161.92 L474.20,162.26 L475.46,162.58 L476.71,162.90 L477.96,163.20 L479.22,163.50 L480.47,163.79 L481.72,164.07 L482.98,164.34 L484.23,164.60 L485.48,164.85 L486.74,165.09 L487.99,165.33 L489.25,165.55 L490.50,165.77 L491.75,165.98 L493.01,166.18 L494.26,166.37 L495.51,166.56 L496.77,166.73 L498.02,166.90 L499.27,167.06 L500.53,167.21 L501.78,167.35 L503.04,167.49 L504.29,167.62 L505.54,167.74 L506.80,167.85 L508.05,167.96 L509.30,168.05 L510.56,168.14 L511.81,168.23 L511.81,185.11 L510.56,184.95 L509.30,184.78 L508.05,184.62 L506.80,184.45 L505.54,184.28 L504.29,184.11 L503.04,183.94 L501.78,183.77 L500.53,183.59 L499.27,183.42 L498.02,183.24 L496.77,183.06 L495.51,182.87 L494.26,182.69 L493.01,182.50 L491.75,182.31 L490.50,182.11 L489.25,181.92 L487.99,181.72 L486.74,181.52 L485.48,181.32 L484.23,181.11 L482.98,180.90 L481.72,180.69 L480.47,180.48 L479.22,180.26 L477.96,180.04 L476.71,179.82 L475.46,179.60 L474.20,179.37 L472.95,179.14 L471.70,178.90 L470.44,178.66 L469.19,178.42 L467.93,178.18 L466.68,177.93 L465.43,177.68 L464.17,177.42 L462.92,177.16 L461.67,176.90 L460.41,176.63 L459.16,176.36 L457.91,176.09 L456.65,175.81 L455.40,175.53 L454.14,175.24 L452.89,174.95 L451.64,174.66 L450.38,174.36 L449.13,174.06 L447.88,173.75 L446.62,173.44 L445.37,173.13 L444.12,172.81 L442.86,172.48 L441.61,172.15 L440.36,171.82 L439.10,171.48 L437.85,171.14 L436.59,170.80 L435.34,170.45 L434.09,170.09 L432.83,169.74 L431.58,169.38 L430.33,169.01 L429.07,168.65 L427.82,168.28 L426.57,167.91 L425.31,167.54 L424.06,167.16 L422.80,166.78 L421.55,166.40 L420.30,166.02 L419.04,165.64 L417.79,165.26 L416.54,164.87 L415.28,164.49 L414.03,164.10 L412.78,163.72 L411.52,163.33 L410.27,162.94 L409.02,162.56 L407.76,162.17 L406.51,161.78 L405.25,161.40 L404.00,161.01 L402.75,160.63 L401.49,160.25 L400.24,159.87 L398.99,159.49 L397.73,159.11 L396.48,158.73 L395.23,158.36 L393.97,157.99 L392.72,157.62 L391.46,157.25 L390.21,156.89 L388.96,156.53 L387.70,156.17 L386.45,155.82 L385.20,155.47 L383.94,155.12 L382.69,154.78 L381.44,154.44 L380.18,154.10 L378.93,153.77 L377.68,153.45 L376.42,153.13 L375.17,152.81 L373.91,152.50 L372.66,152.20 L371.41,151.90 L370.15,151.61 L368.90,151.32 L367.65,151.04 L366.39,150.76 L365.14,150.50 L363.89,150.24 L362.63,149.98 L361.38,149.73 L360.12,149.49 L358.87,149.26 L357.62,149.04 L356.36,148.82 L355.11,148.61 L353.86,148.41 L352.60,148.22 L351.35,148.03 L350.10,147.86 L348.84,147.69 L347.59,147.53 L346.34,147.38 L345.08,147.25 L343.83,147.12 L342.57,147.00 L341.32,146.89 L340.07,146.79 L338.81,146.70 L337.56,146.62 L336.31,146.55 L335.05,146.49 L333.80,146.43 L332.55,146.39 L331.29,146.35 L330.04,146.33 L328.78,146.31 L327.53,146.30 L326.28,146.29 L325.02,146.30 L323.77,146.31 L322.52,146.33 L321.26,146.36 L320.01,146.39 L318.76,146.43 L317.50,146.48 L316.25,146.54 L315.00,146.60 L313.74,146.67 L312.49,146.74 L311.23,146.82 L309.98,146.91 L308.73,147.00 L307.47,147.10 L306.22,147.20 L304.97,147.31 L303.71,147.42 L302.46,147.54 L301.21,147.66 L299.95,147.79 L298.70,147.92 L297.44,148.06 L296.19,148.20 L294.94,148.34 L293.68,148.49 L292.43,148.64 L291.18,148.80 L289.92,148.96 L288.67,149.13 L287.42,149.30 L286.16,149.47 L284.91,149.65 L283.66,149.83 L282.40,150.01 L281.15,150.20 L279.89,150.39 L278.64,150.59 L277.39,150.79 L276.13,150.99 L274.88,151.20 L273.63,151.41 L272.37,151.62 L271.12,151.84 L269.87,152.06 L268.61,152.28 L267.36,152.51 L266.10,152.74 L264.85,152.97 L263.60,153.21 L262.34,153.45 L261.09,153.69 L259.84,153.94 L258.58,154.18 L257.33,154.44 L256.08,154.69 L254.82,154.95 L253.57,155.21 L252.32,155.47 L251.06,155.73 L249.81,156.00 L248.55,156.27 L247.30,156.54 L246.05,156.82 L244.79,157.09 L243.54,157.37 L242.29,157.66 L241.03,157.94 L239.78,158.23 L238.53,158.51 L237.27,158.80 L236.02,159.10 L234.76,159.39 L233.51,159.69 L232.26,159.98 L231.00,160.28 L229.75,160.58 L228.50,160.89 L227.24,161.19 L225.99,161.49 L224.74,161.80 L223.48,162.10 L222.23,162.41 L220.98,162.71 L219.72,163.02 L218.47,163.33 L217.21,163.64 L215.96,163.94 L214.71,164.25 L213.45,164.56 L212.20,164.87 L210.95,165.17 L209.69,165.48 L208.44,165.79 L207.19,166.09 L205.93,166.39 L204.68,166.70 L203.42,167.00 L202.17,167.30 L200.92,167.60 L199.66,167.90 L198.41,168.20 L197.16,168.49 L195.90,168.78 L194.65,169.08 L193.40,169.37 L192.14,169.65 L190.89,169.94 L189.64,170.22 L188.38,170.50 L187.13,170.78 L185.87,171.06 L184.62,171.33 L183.37,171.60 L182.11,171.86 L180.86,172.13 L179.61,172.39 L178.35,172.64 L177.10,172.90 L175.85,173.15 L174.59,173.40 L173.34,173.64 L172.08,173.88 L170.83,174.12 L169.58,174.35 L168.32,174.58 L167.07,174.81 L165.82,175.04 L164.56,175.26 L163.31,175.48 L162.06,175.69 L160.80,175.91 L159.55,176.11 L158.30,176.32 L157.04,176.52 L155.79,176.73 L154.53,176.92 L153.28,177.12 L152.03,177.31 L150.77,177.50 L149.52,177.68 L148.27,177.87 L147.01,178.05 L145.76,178.23 L144.51,178.40 L143.25,178.57 L142.00,178.74 L140.74,178.91 L139.49,179.07 L138.24,179.23 L136.98,179.39 L135.73,179.55 L134.48,179.70 L133.22,179.85 L131.97,180.00 L130.72,180.14 L129.46,180.28 L128.21,180.42 L126.96,180.56 L125.70,180.70 L124.45,180.83 L123.19,180.96 L121.94,181.09 L120.69,181.21 L119.43,181.33 L118.18,181.45 L116.93,181.57 L115.67,181.69 L114.42,181.80 L113.17,181.91 L111.91,182.02 L110.66,182.13 L109.40,182.23 L108.15,182.33 L106.90,182.43 L105.64,182.53 L104.39,182.62 L103.14,182.72 L101.88,182.81 L100.63,182.89 L99.38,182.98 L98.12,183.06 L96.87,183.15 L95.62,183.23 L94.36,183.30 L93.11,183.38 L91.85,183.45 L90.60,183.53 L89.35,183.60 L88.09,183.66 L86.84,183.73 L85.59,183.80 L84.33,183.86 L83.08,183.92 L81.83,183.98 L80.57,184.03 L79.32,184.09 L78.06,184.14 L76.81,184.19 L75.56,184.24 L74.30,184.29 L73.05,184.34 L71.80,184.38 L70.54,184.42 L69.29,184.46 L68.04,184.50 L66.78,184.54 L65.53,184.58 L64.28,184.61 L63.02,184.64 L61.77,184.68 L60.51,184.71 L59.26,184.73 L58.01,184.76 L56.75,184.79 L55.50,184.81Z" fill="#b3b3b3"/>
<g stroke="#fff" stroke-opacity="0.22" stroke-width="1"><line x1="54.9" x2="512.4" y1="54.50" y2="54.50"/><line x1="54.9" x2="512.4" y1="70.92" y2="70.92"/><line x1="54.9" x2="512.4" y1="87.34" y2="87.34"/><line x1="54.9" x2="512.4" y1="103.76" y2="103.76"/><line x1="54.9" x2="512.4" y1="120.18" y2="120.18"/><line x1="54.9" x2="512.4" y1="136.60" y2="136.60"/><line x1="54.9" x2="512.4" y1="153.02" y2="153.02"/><line x1="54.9" x2="512.4" y1="169.44" y2="169.44"/><line x1="54.9" x2="512.4" y1="185.86" y2="185.86"/><line x1="54.9" x2="512.4" y1="202.28" y2="202.28"/><line x1="54.9" x2="512.4" y1="218.70" y2="218.70"/><line x1="54.9" x2="512.4" y1="235.12" y2="235.12"/><line x1="54.9" x2="512.4" y1="251.54" y2="251.54"/><line x1="54.9" x2="512.4" y1="267.96" y2="267.96"/><line x1="94.76" x2="94.76" y1="40" y2="260"/><line x1="129.86" x2="129.86" y1="40" y2="260"/><line x1="168.72" x2="168.72" y1="40" y2="260"/><line x1="206.33" x2="206.33" y1="40" y2="260"/><line x1="245.19" x2="245.19" y1="40" y2="260"/><line x1="360.52" x2="360.52" y1="40" y2="260"/><line x1="398.13" x2="398.13" y1="40" y2="260"/><line x1="436.99" x2="436.99" y1="40" y2="260"/><line x1="474.60" x2="474.60" y1="40" y2="260"/></g>
<polyline points="54.8,167.6 56.8,164.7 58.1,170.5 59.7,169.5 61.2,173.4 63.5,186.9 65.5,182.1 68.4,169.5 70.3,174.3 72.8,181.1 74.2,176.3 76.7,182.1 78.6,192.7 80.6,183.0 82.5,198.5 83.8,179.2 86.4,185.0 89.7,177.2 91.6,175.3 94.1,169.5 96.4,177.2 98.4,174.3 100.7,180.1 102.2,176.3 105.1,190.8 108.0,200.8 110.9,193.7 112.4,181.4 113.9,183.8 115.3,182.9 116.8,178.0 118.7,170.3 120.6,174.6 122.6,187.2 124.5,176.6 126.0,178.5 127.9,171.3 129.4,178.5 131.3,189.2 133.2,180.9 134.7,178.0 136.1,180.0 138.1,187.2 140.0,175.6 141.5,181.4 143.4,188.2 145.3,174.2 147.8,192.1 151.2,169.5 154.0,174.0 156.3,187.6 159.1,171.2 161.4,175.7 165.3,188.7 167.6,170.0 170.8,175.7 172.2,183.6 174.9,175.2 178.9,185.3 180.5,191.5 184.0,171.0 187.6,170.2 190.2,167.5 192.9,169.3 195.6,165.7 198.2,164.0 200.9,172.0 205.0,160.6 206.9,163.1 209.0,156.6 211.1,167.1 213.9,172.7 216.3,159.0 218.2,166.3 221.1,154.2 223.1,160.0 225.2,159.0 227.6,175.2 230.8,165.5 233.7,158.2 236.0,166.3 237.3,159.8 239.2,159.8 241.3,154.2 243.7,141.3 245.3,137.3 247.3,149.4 249.4,155.8 251.8,161.5 254.2,158.2 256.6,151.0 259.5,143.7 261.5,149.4 263.1,160.6 265.7,152.9 269.0,137.0 272.9,151.5 275.3,132.0 277.8,120.3 280.3,139.0 282.7,136.6 286.0,144.7 288.4,143.9 290.5,148.7 293.2,145.5 295.6,147.9 298.9,147.9 300.5,146.3" fill="none" stroke="#3d8fc8" stroke-width="1.35" stroke-linejoin="round"/>
<polyline points="54.8,160.1 56.8,155.3 58.7,159.2 60.6,157.2 62.6,158.2 65.5,166.0 67.0,166.9 69.9,143.7 73.2,160.1 76.1,156.3 78.0,159.2 80.0,165.0 81.5,160.1 83.8,173.7 85.8,175.6 87.7,169.8 90.6,166.9 92.6,165.0 95.5,166.9 97.4,164.0 98.4,157.2 99.9,162.1 101.8,161.1 103.2,166.0 105.1,179.5 107.1,189.2 108.0,193.7 110.1,192.7 112.5,166.1 114.1,162.1 115.4,174.2 117.0,160.5 119.0,158.1 121.4,160.5 123.8,157.3 126.2,158.9 128.3,145.6 129.7,150.5 131.2,144.7 133.2,148.5 135.1,159.2 137.0,155.3 139.0,151.4 141.9,143.7 144.4,142.7 146.8,161.0 149.1,141.8 151.3,154.2 153.6,158.7 156.3,148.5 158.1,159.8 161.3,137.2 163.5,153.0 166.4,127.1 168.3,135.0 169.8,129.3 172.1,145.1 173.9,137.2 177.0,155.6 179.1,148.2 181.2,134.6 183.3,130.4 187.7,105.3 190.1,122.6 192.4,115.8 194.2,131.6 196.5,150.8 199.2,140.6 201.5,110.4 205.5,135.3 207.6,133.2 209.5,108.2 212.7,142.9 215.0,136.6 218.2,114.0 220.4,112.6 224.0,107.5 227.0,143.0 230.0,143.0 232.0,133.0 234.4,143.0 237.0,126.0 238.0,134.0 241.0,109.0 243.6,89.0 247.0,111.0 250.0,135.0 253.0,131.0 256.0,139.0 258.0,113.0 259.0,131.0 261.0,123.0 263.0,111.0 265.4,109.4 268.4,84.3 270.8,106.7 274.2,89.0 275.6,65.8 276.7,59.0 277.8,52.9 281.6,120.2 283.4,101.3 286.1,101.9 287.7,96.5 289.4,118.9 291.5,97.9 293.8,101.3 296.6,101.9 300.6,115.5" fill="none" stroke="#d42e35" stroke-width="1.35" stroke-linejoin="round"/>
<circle cx="69.9" cy="143.7" r="2.5" fill="#f29494" stroke="#b8505a" stroke-width="0.9"/>
<circle cx="187.7" cy="105.3" r="2.5" fill="#f29494" stroke="#b8505a" stroke-width="0.9"/>
<circle cx="243.6" cy="89" r="2.5" fill="#f29494" stroke="#b8505a" stroke-width="0.9"/>
<circle cx="268.4" cy="84.3" r="2.5" fill="#f29494" stroke="#b8505a" stroke-width="0.9"/>
<circle cx="275.6" cy="65.8" r="2.5" fill="#f29494" stroke="#b8505a" stroke-width="0.9"/>
<circle cx="276.7" cy="59" r="2.5" fill="#f29494" stroke="#b8505a" stroke-width="0.9"/>
<circle cx="277.8" cy="52.9" r="2.5" fill="#f29494" stroke="#b8505a" stroke-width="0.9"/>
<line x1="44.5" x2="49.5" y1="54.50" y2="54.50" stroke="#bbb" stroke-width="1"/>
<text x="41" y="59.50" text-anchor="end" font-size="12" fill="#333">115</text>
<line x1="44.5" x2="49.5" y1="70.92" y2="70.92" stroke="#bbb" stroke-width="1"/>
<text x="41" y="75.92" text-anchor="end" font-size="12" fill="#333">105</text>
<line x1="44.5" x2="49.5" y1="87.34" y2="87.34" stroke="#bbb" stroke-width="1"/>
<text x="41" y="92.34" text-anchor="end" font-size="12" fill="#333">95</text>
<line x1="44.5" x2="49.5" y1="103.76" y2="103.76" stroke="#bbb" stroke-width="1"/>
<text x="41" y="108.76" text-anchor="end" font-size="12" fill="#333">85</text>
<line x1="44.5" x2="49.5" y1="120.18" y2="120.18" stroke="#bbb" stroke-width="1"/>
<text x="41" y="125.18" text-anchor="end" font-size="12" fill="#333">75</text>
<line x1="44.5" x2="49.5" y1="136.60" y2="136.60" stroke="#bbb" stroke-width="1"/>
<text x="41" y="141.60" text-anchor="end" font-size="12" fill="#333">65</text>
<line x1="44.5" x2="49.5" y1="153.02" y2="153.02" stroke="#bbb" stroke-width="1"/>
<text x="41" y="158.02" text-anchor="end" font-size="12" fill="#333">55</text>
<line x1="44.5" x2="49.5" y1="169.44" y2="169.44" stroke="#bbb" stroke-width="1"/>
<text x="41" y="174.44" text-anchor="end" font-size="12" fill="#333">45</text>
<line x1="44.5" x2="49.5" y1="185.86" y2="185.86" stroke="#bbb" stroke-width="1"/>
<text x="41" y="190.86" text-anchor="end" font-size="12" fill="#333">35</text>
<line x1="44.5" x2="49.5" y1="202.28" y2="202.28" stroke="#bbb" stroke-width="1"/>
<text x="41" y="207.28" text-anchor="end" font-size="12" fill="#333">25</text>
<line x1="44.5" x2="49.5" y1="218.70" y2="218.70" stroke="#bbb" stroke-width="1"/>
<text x="41" y="223.70" text-anchor="end" font-size="12" fill="#333">15</text>
<line x1="44.5" x2="49.5" y1="235.12" y2="235.12" stroke="#bbb" stroke-width="1"/>
<text x="41" y="240.12" text-anchor="end" font-size="12" fill="#333">5</text>
<line x1="44.5" x2="49.5" y1="251.54" y2="251.54" stroke="#bbb" stroke-width="1"/>
<text x="41" y="256.54" text-anchor="end" font-size="12" fill="#333">-5</text>
<line x1="44.5" x2="49.5" y1="267.96" y2="267.96" stroke="#bbb" stroke-width="1"/>
<text x="41" y="272.96" text-anchor="end" font-size="12" fill="#333">-15</text>
<line x1="55.50" x2="55.50" y1="268.5" y2="274.5" stroke="#bbb" stroke-width="1"/>
<text x="45.70" y="289.6" font-size="12" fill="#333" textLength="18" lengthAdjust="spacingAndGlyphs">Jan</text>
<line x1="94.36" x2="94.36" y1="268.5" y2="274.5" stroke="#bbb" stroke-width="1"/>
<text x="83.90" y="289.6" font-size="12" fill="#333" textLength="18.8" lengthAdjust="spacingAndGlyphs">Feb</text>
<line x1="129.46" x2="129.46" y1="268.5" y2="274.5" stroke="#bbb" stroke-width="1"/>
<text x="120.55" y="289.6" font-size="12" fill="#333" textLength="18.9" lengthAdjust="spacingAndGlyphs">Mar</text>
<line x1="168.32" x2="168.32" y1="268.5" y2="274.5" stroke="#bbb" stroke-width="1"/>
<text x="161.35" y="289.6" font-size="12" fill="#333" textLength="17.3" lengthAdjust="spacingAndGlyphs">Apr</text>
<line x1="205.93" x2="205.93" y1="268.5" y2="274.5" stroke="#bbb" stroke-width="1"/>
<text x="195.75" y="289.6" font-size="12" fill="#333" textLength="20.7" lengthAdjust="spacingAndGlyphs">May</text>
<line x1="244.79" x2="244.79" y1="268.5" y2="274.5" stroke="#bbb" stroke-width="1"/>
<text x="235.75" y="289.6" font-size="12" fill="#333" textLength="18.1" lengthAdjust="spacingAndGlyphs">Jun</text>
<line x1="282.40" x2="282.40" y1="268.5" y2="274.5" stroke="#bbb" stroke-width="1"/>
<text x="275.45" y="289.6" font-size="12" fill="#333" textLength="15.1" lengthAdjust="spacingAndGlyphs">Jul</text>
<line x1="321.26" x2="321.26" y1="268.5" y2="274.5" stroke="#bbb" stroke-width="1"/>
<text x="314.20" y="289.6" font-size="12" fill="#333" textLength="18.4" lengthAdjust="spacingAndGlyphs">Aug</text>
<line x1="360.12" x2="360.12" y1="268.5" y2="274.5" stroke="#bbb" stroke-width="1"/>
<text x="350.60" y="289.6" font-size="12" fill="#333" textLength="18.4" lengthAdjust="spacingAndGlyphs">Sep</text>
<line x1="397.73" x2="397.73" y1="268.5" y2="274.5" stroke="#bbb" stroke-width="1"/>
<text x="388.95" y="289.6" font-size="12" fill="#333" textLength="18.1" lengthAdjust="spacingAndGlyphs">Oct</text>
<line x1="436.59" x2="436.59" y1="268.5" y2="274.5" stroke="#bbb" stroke-width="1"/>
<text x="427.75" y="289.6" font-size="12" fill="#333" textLength="19.9" lengthAdjust="spacingAndGlyphs">Nov</text>
<line x1="474.20" x2="474.20" y1="268.5" y2="274.5" stroke="#bbb" stroke-width="1"/>
<text x="467.70" y="289.6" font-size="12" fill="#333" textLength="18.6" lengthAdjust="spacingAndGlyphs">Dec</text>
<text x="2" y="21.8" font-size="12.5" fill="#383838" stroke="#383838" stroke-width="0.25" textLength="326" lengthAdjust="spacingAndGlyphs">Daily temperatures at Portland International Airport</text>
<text transform="translate(11.8,146.6) rotate(-90)" text-anchor="middle" font-size="11.5" fill="#333" stroke="#333" stroke-width="0.35" textLength="96" lengthAdjust="spacingAndGlyphs">temperature (˚F)</text>
<text x="378" y="36.9" font-size="12" fill="#d0333b" textLength="174.5" lengthAdjust="spacingAndGlyphs">2021 daytime high temperatures</text>
<text x="378" y="56.6" font-size="12" fill="#3d8fc8" textLength="178" lengthAdjust="spacingAndGlyphs">2021 overnight low temperatures</text>
<circle cx="399" cy="70.6" r="2.6" fill="#e89090" stroke="#b84048" stroke-width="0.9"/>
<text x="407.4" y="73.5" font-size="12" fill="#f08080" textLength="130.3" lengthAdjust="spacingAndGlyphs">new record <tspan fill="#f4a8a8">(old record)</tspan></text>
<g font-size="10.5" fill="#f07f7f" stroke="#f07f7f" stroke-width="0.2"><text x="275.6" y="47.8" textLength="18.7" lengthAdjust="spacingAndGlyphs">116</text><text x="296.8" y="47.8">˚</text><text x="302.5" y="47.8" textLength="22.8" lengthAdjust="spacingAndGlyphs">(100</text><text x="326.2" y="47.8">˚</text><text x="332.6" y="47.8">)</text></g>
<line x1="488.5" x2="535.5" y1="141.3" y2="141.3" stroke="#f6a46e" stroke-width="1"/>
<text x="538.4" y="144.2" font-size="12" fill="#606060" textLength="59.6" lengthAdjust="spacingAndGlyphs">record high</text>
<line x1="488.5" x2="535.5" y1="167.2" y2="167.2" stroke="#f6a46e" stroke-width="1"/>
<text x="538.4" y="170.1" font-size="12" fill="#606060" textLength="67.4" lengthAdjust="spacingAndGlyphs">average high</text>
<line x1="488.5" x2="535.5" y1="185.3" y2="185.3" stroke="#f6a46e" stroke-width="1"/>
<text x="538.4" y="188.2" font-size="12" fill="#606060" textLength="64.4" lengthAdjust="spacingAndGlyphs">average low</text>
<line x1="488.5" x2="535.5" y1="226.2" y2="226.2" stroke="#f6a46e" stroke-width="1"/>
<text x="538.4" y="229.1" font-size="12" fill="#606060" textLength="56.8" lengthAdjust="spacingAndGlyphs">record low</text>
<text x="496" y="294.9" font-size="11" fill="#a0a0a0" textLength="88.8" lengthAdjust="spacingAndGlyphs">NOAA Climate.gov</text>
<text x="496" y="307.2" font-size="11" fill="#a0a0a0" textLength="121.3" lengthAdjust="spacingAndGlyphs">Data: NCEI/Jared Rennie</text>
</svg></body></html>
